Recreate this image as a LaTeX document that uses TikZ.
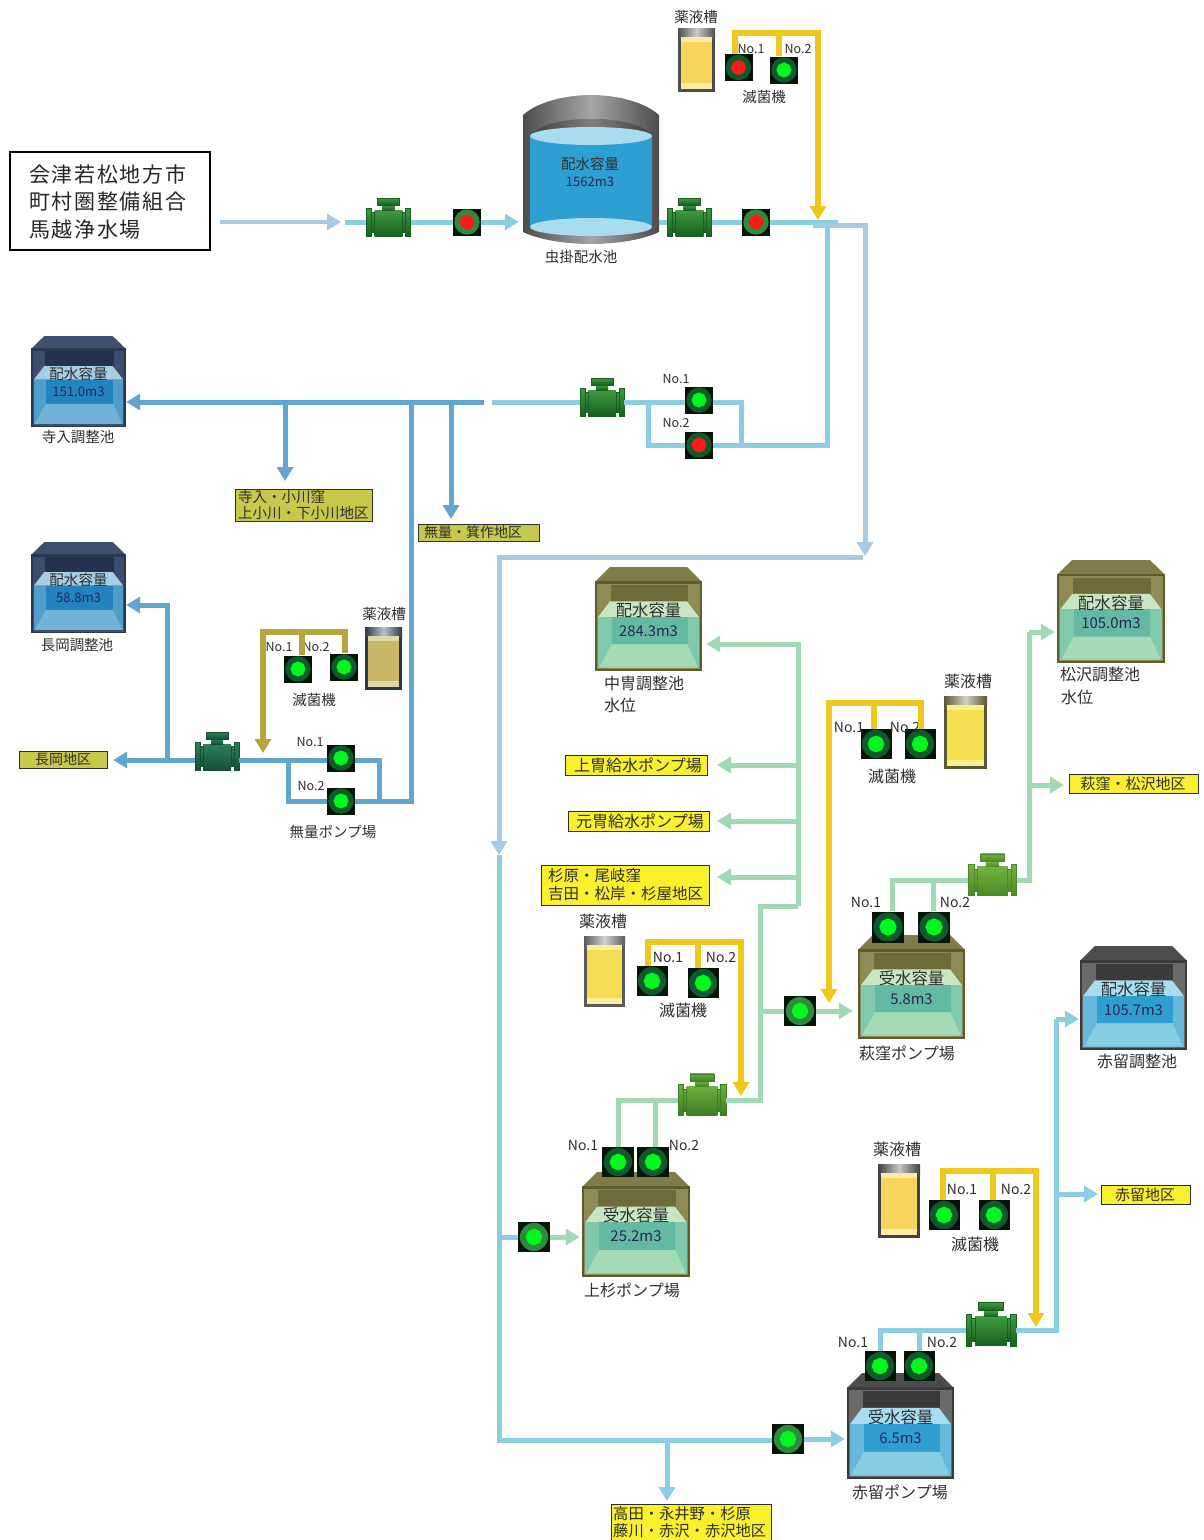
\documentclass[tikz,border=0pt]{standalone}
\usepackage{fontspec}
\setmainfont{Noto Sans CJK JP}
\newfontfamily\boxfont[LetterSpace=8]{Noto Sans CJK JP}
\usetikzlibrary{arrows.meta,shapes.geometric,calc}
% tank palettes
\definecolor{navyroof}{HTML}{3F4F70}\definecolor{navyframe}{HTML}{2A3850}\definecolor{navyside}{HTML}{3D4D70}\definecolor{navyback}{HTML}{25324F}
\definecolor{navysurf}{HTML}{A6CDE2}\definecolor{navywater}{HTML}{4F9DCB}\definecolor{navydeep}{HTML}{2383BC}\definecolor{navyfloor}{HTML}{70B2D8}
\definecolor{oliveroof}{HTML}{7F7C4A}\definecolor{oliveframe}{HTML}{5C5C2C}\definecolor{oliveside}{HTML}{8E8B55}\definecolor{oliveback}{HTML}{6F6B38}
\definecolor{olivesurf}{HTML}{C8E6C3}\definecolor{olivewater}{HTML}{80C9AD}\definecolor{olivedeep}{HTML}{64B9A2}\definecolor{olivefloor}{HTML}{A4DBB6}
\definecolor{grayroof}{HTML}{4C4C4C}\definecolor{grayframe}{HTML}{3A3A3A}\definecolor{grayside}{HTML}{6A6A6A}\definecolor{grayback}{HTML}{3A3A3A}
\definecolor{graysurf}{HTML}{A9DCEE}\definecolor{graywater}{HTML}{66B9DD}\definecolor{graydeep}{HTML}{2E9FD0}\definecolor{grayfloor}{HTML}{86CDE3}
% chemical tanks
\definecolor{capGrey}{HTML}{6E6E6E}\definecolor{capMid}{HTML}{808080}\definecolor{capDark}{HTML}{5E5E5E}
\definecolor{fillA}{HTML}{F5D55C}\definecolor{lightA}{HTML}{FBEBA6}
\definecolor{fillB}{HTML}{C8B868}\definecolor{lightB}{HTML}{DCD8A8}
\definecolor{fillC}{HTML}{F6DF50}\definecolor{lightC}{HTML}{FBEE8C}
\definecolor{fillD}{HTML}{F5DC55}\definecolor{lightD}{HTML}{FBEE9C}
% pipes
\definecolor{sky}{HTML}{8CCDE3}\definecolor{pale}{HTML}{A6CBE9}\definecolor{midblue}{HTML}{62A5CF}\definecolor{mint}{HTML}{A3D8B4}
\definecolor{chemyel}{HTML}{ECC91C}\definecolor{chemolive}{HTML}{B5A53C}
\definecolor{ringA}{HTML}{0F5A2A}\definecolor{ringB}{HTML}{2F8A3C}\definecolor{lampG}{HTML}{00F81E}\definecolor{lampR}{HTML}{FF1A1A}
\definecolor{signY}{HTML}{FAF02E}\definecolor{signO}{HTML}{C8C84A}\definecolor{ink}{HTML}{2E2E2E}
\definecolor{vbox}{HTML}{06140A}
\definecolor{m1t}{HTML}{3F9A42}\definecolor{m1b}{HTML}{17601F}
\definecolor{m2t}{HTML}{2F8058}\definecolor{m2b}{HTML}{164F36}
\definecolor{m3t}{HTML}{6CAE3E}\definecolor{m3b}{HTML}{3C7E22}
\definecolor{m4t}{HTML}{72B242}\definecolor{m4b}{HTML}{4A8A26}
\tikzset{
 lbl/.style={inner sep=0pt,text=ink,font=\fontsize{14.5}{17}\selectfont},
 nolbl/.style={inner sep=0pt,text=ink,font=\fontsize{12.5}{14}\selectfont},
 nobig/.style={inner sep=0pt,text=ink,font=\fontsize{14}{16}\selectfont},
 big/.style={inner sep=0pt,text=ink,font=\fontsize{16}{18}\selectfont},
 sign/.style={draw=ink,line width=1.2pt,anchor=north west,inner sep=0pt},
 pipe/.style={line width=5pt,line join=miter},
 chem/.style={line width=5.8pt,line join=miter},
 arr/.style={-{Triangle[width=16pt,length=14pt]}},
}
% name, x, y, w, h, lamp, ring
\newcommand{\vlv}[7]{%
 \node[fill=vbox,minimum width=#4pt,minimum height=#5pt,inner sep=0pt] (#1) at (#2,#3) {};
 \fill[#7] (#2,#3) circle ({0.47*#5 pt});
 \node[regular polygon,regular polygon sides=8,shape border rotate=22.5,fill=#6,inner sep=0pt,minimum size={0.56*#5 pt}] (#1lamp) at (#2,#3) {};
}
% name, cx, cy, width, top colour, bottom colour
\newcommand{\flowmeter}[6]{%
 \node[minimum width=#4pt,minimum height=28pt,inner sep=0pt] (#1) at (#2,#3) {};
 \begin{scope}[shift={(#2,#3)},scale={#4/44}]
  \shade[top color=#5,bottom color=#6] (-14,-12) rectangle (14,14);
  \shade[top color=#5,bottom color=#6] (-6,-17) rectangle (6,-12);
  \shade[top color=#5,bottom color=#6,draw=#6,line width=.6pt] (-11,-24) rectangle (11,-17);
  \foreach \s in {-1,1}{
   \shade[top color=#5,bottom color=#6,draw=#6,line width=.6pt] (\s*22,-14) rectangle (\s*17,14);
   \shade[top color=#5,bottom color=#6,draw=#6,line width=.6pt] (\s*17,-10) rectangle (\s*14,10);
  }
 \end{scope}
}
% name, x, y, w, h, palette, line1, line2
\newcommand{\boxtank}[8]{%
 \begin{scope}[shift={(#2,#3)},x=#4pt,y=-#5pt]
  \fill[#6roof] (.14,0) -- (.86,0) -- (1,.143) -- (0,.143) -- cycle;
  \fill[#6frame] (0,.135) rectangle (1,1);
  \fill[#6side] (.018,.16) rectangle (.982,.985);
  \fill[#6back] (.15,.17) rectangle (.87,.36);
  \fill[#6surf] (.14,.33) -- (.86,.33) -- (.97,.48) -- (.03,.48) -- cycle;
  \fill[#6water] (.03,.48) rectangle (.97,.97);
  \fill[#6deep] (.155,.48) rectangle (.865,.745);
  \fill[#6floor] (.155,.745) -- (.865,.745) -- (.96,.965) -- (.04,.965) -- cycle;
  \node[inner sep=0pt,minimum width=#4pt,minimum height={0.857*#5 pt}] (#1) at (.5,.5715) {};
  \pgfmathsetmacro\fsa{0.153*#4}\pgfmathsetmacro\fsb{0.138*#4}
  \node[inner sep=0pt,text=ink] (#1a) at (.5,.415) {\fontsize{\fsa}{\fsa}\selectfont #7};
  \node[inner sep=0pt,text=ink!80!blue] (#1b) at (.5,.615) {\fontsize{\fsb}{\fsb}\selectfont #8};
 \end{scope}
}
% name, x0, y0, x1, y1, cap, fill, light
\newcommand{\chemtank}[8]{%
 \node[fill=#6!70!black,inner sep=0pt,minimum width={(#4-#2)*1pt},minimum height={(#5-#3)*1pt}] (#1) at ({(#2+#4)/2},{(#3+#5)/2}) {};
 \shade[left color=#6!70!black,right color=#6!70!black,middle color=#6!35!white] (#2,#3) rectangle (#4,{#3+10});
 \fill[#8] ({#2+3},{#3+9}) rectangle ({#4-3},{#5-3});
 \fill[#7] ({#2+3},{#3+14}) rectangle ({#4-3},{#5-9});
}
\begin{document}
\begin{tikzpicture}[x=1pt,y=-1pt]
\useasboundingbox (0,0) rectangle (1203,1540);
% ---- source box
\node[draw=black,line width=1.8pt,anchor=north west,minimum width=200pt,minimum height=98pt,inner sep=0pt] (src) at (9,151) {};
\node[anchor=west,inner sep=0pt,align=left,text=black!85,font=\boxfont\fontsize{21}{27.6}\selectfont] (srct) at (29,202) {会津若松地方市\\町村圏整備組合\\馬越浄水場};
% ---- cylinder reservoir
\node[inner sep=0pt,minimum width=136pt,minimum height=148pt] (cyl) at (591,170) {};
\shade[left color=black!70,right color=black!70,middle color=black!35] (523,115) .. controls (540,100) and (570,95) .. (591,95) .. controls (612,95) and (642,100) .. (659,115) -- (659,232) .. controls (640,241) and (612,244) .. (591,244) .. controls (570,244) and (542,241) .. (523,232) -- cycle;
\shade[left color=black!75,right color=black!75,middle color=black!50] (531,136) .. controls (545,113) and (637,113) .. (652,136) -- cycle;
\fill[graydeep] (530,136) rectangle (652,227);
\fill[graysurf] (591,136) ellipse (61 and 9);
\fill[graysurf] (591,227) ellipse (61 and 9);
\node[inner sep=0pt,text=ink] (cyla) at (590,164) {\fontsize{14.5}{16}\selectfont 配水容量};
\node[inner sep=0pt,text=ink!80!blue] (cylb) at (590,182) {\fontsize{13}{15}\selectfont 1562m3};
\node[lbl] (cylc) at (581,257) {虫掛配水池};
% ---- box tanks
\boxtank{tTera}{31}{336}{95}{91}{navy}{配水容量}{151.0m3}
\boxtank{tNaga}{31}{542}{95}{91}{navy}{配水容量}{58.8m3}
\boxtank{tNaka}{595}{567}{107}{104}{olive}{配水容量}{284.3m3}
\boxtank{tMatsu}{1057}{560}{108}{103}{olive}{配水容量}{105.0m3}
\boxtank{tHagi}{858}{935}{107}{104}{olive}{受水容量}{5.8m3}
\boxtank{tAkaC}{1080}{946}{107}{104}{gray}{配水容量}{105.7m3}
\boxtank{tUe}{582}{1172}{108}{105}{olive}{受水容量}{25.2m3}
\boxtank{tAkaP}{847}{1373}{107}{106}{gray}{受水容量}{6.5m3}
% ---- chemical tanks
\chemtank{c1}{678}{28}{715}{92}{capGrey}{fillA}{lightA}
\chemtank{c2}{365}{627}{402}{690}{navyroof}{fillB}{lightB}
\chemtank{c3}{944}{696}{987}{769}{oliveroof}{fillC}{lightC}
\chemtank{c4}{584}{936}{625}{1007}{capMid}{fillD}{lightD}
\chemtank{c5}{878}{1164}{920}{1238}{capDark}{fillA}{lightA}
% ---- flow meters
\flowmeter{mA}{388.5}{222}{44}{m1t}{m1b}
\flowmeter{mB}{689.5}{222}{44}{m1t}{m1b}
\flowmeter{mC}{602}{402}{44}{m1t}{m1b}
\flowmeter{mD}{217}{756}{44}{m2t}{m2b}
\flowmeter{mE}{702}{1100}{48}{m3t}{m3b}
\flowmeter{mF}{992.5}{880}{48}{m4t}{m4b}
\flowmeter{mG}{991}{1330}{50}{m1t}{m1b}
% ---- valves
\vlv{vA}{467}{222}{28}{27}{lampR}{ringB}
\vlv{vB}{756}{222}{28}{27}{lampR}{ringB}
\vlv{vT1}{738.5}{67.5}{28}{27}{lampR}{ringA}
\vlv{vT2}{784}{70}{28}{27}{lampG}{ringA}
\vlv{vC1}{699}{400}{28}{27}{lampG}{ringA}
\vlv{vC2}{699}{445}{28}{27}{lampR}{ringA}
\vlv{vD1}{341}{758}{28}{27}{lampG}{ringA}
\vlv{vD2}{341}{801}{28}{27}{lampG}{ringA}
\vlv{vN1}{298}{669}{28}{27}{lampG}{ringA}
\vlv{vN2}{344}{667}{28}{27}{lampG}{ringA}
\vlv{vH1}{876}{744}{31}{30}{lampG}{ringA}
\vlv{vH2}{920}{744}{31}{30}{lampG}{ringA}
\vlv{vU1}{652}{981}{31}{30}{lampG}{ringA}
\vlv{vU2}{703}{983}{31}{30}{lampG}{ringA}
\vlv{vK1}{888}{927}{32}{31}{lampG}{ringA}
\vlv{vK2}{934}{927}{32}{31}{lampG}{ringA}
\vlv{vHin}{800}{1011}{32}{30}{lampG}{ringB}
\vlv{vE1}{618}{1162}{32}{30}{lampG}{ringA}
\vlv{vE2}{653}{1162}{32}{30}{lampG}{ringA}
\vlv{vUin}{534}{1237}{32}{30}{lampG}{ringB}
\vlv{vS1}{944}{1215}{31}{30}{lampG}{ringA}
\vlv{vS2}{994}{1215}{31}{30}{lampG}{ringA}
\vlv{vG1}{880}{1366}{31}{30}{lampG}{ringA}
\vlv{vG2}{919}{1366}{31}{30}{lampG}{ringA}
\vlv{vAin}{788}{1439}{32}{30}{lampG}{ringB}
% ---- signs
\node[sign,fill=signO,minimum width=137pt,minimum height=32pt] (sTera) at (235,489) {};
\node[inner sep=0pt,anchor=west,align=left,text=ink,font=\fontsize{14.5}{15.4}\selectfont] (sTeraT) at (238,505) {寺入・小川窪\\上小川・下小川地区};
\node[sign,fill=signO,minimum width=121pt,minimum height=17pt] (sMu) at (418,524) {};
\node[inner sep=0pt,text=ink] (sMuT) at (473,532.5) {\fontsize{14}{16}\selectfont 無量・箕作地区};
\node[sign,fill=signO,minimum width=88pt,minimum height=17pt] (sNaga) at (19,751) {};
\node[inner sep=0pt,text=ink] (sNagaT) at (63,759.5) {\fontsize{14}{16}\selectfont 長岡地区};
\node[sign,fill=signY,minimum width=142pt,minimum height=20pt] (sUeK) at (565,755) {};
\node[inner sep=0pt,text=ink] (sUeKT) at (638,765) {\fontsize{16}{18}\selectfont 上冑給水ポンプ場};
\node[sign,fill=signY,minimum width=141pt,minimum height=20pt] (sMoto) at (568,811) {};
\node[inner sep=0pt,text=ink] (sMotoT) at (640,821) {\fontsize{16}{18}\selectfont 元冑給水ポンプ場};
\node[sign,fill=signY,minimum width=168pt,minimum height=40pt] (sSugi) at (541,865) {};
\node[inner sep=0pt,anchor=west,align=left,text=ink,font=\fontsize{15.5}{18}\selectfont] (sSugiT) at (548,885) {杉原・尾岐窪\\吉田・松岸・杉屋地区};
\node[sign,fill=signY,minimum width=129pt,minimum height=19pt] (sHagi) at (1069,774) {};
\node[inner sep=0pt,text=ink] (sHagiT) at (1133,784) {\fontsize{15}{17}\selectfont 萩窪・松沢地区};
\node[sign,fill=signY,minimum width=89pt,minimum height=19pt] (sAka) at (1101,1185) {};
\node[inner sep=0pt,text=ink] (sAkaT) at (1145,1194.5) {\fontsize{15}{17}\selectfont 赤留地区};
\node[sign,fill=signY,minimum width=160pt,minimum height=38pt] (sTaka) at (610.5,1503.5) {};
\node[inner sep=0pt,anchor=west,align=left,text=ink,font=\fontsize{15.3}{17}\selectfont] (sTakaT) at (613,1522) {高田・永井野・杉原\\藤川・赤沢・赤沢地区};
% ---- text labels
\node[lbl] (a1) at (696,17) {薬液槽};
\node[nolbl] (a2) at (751,49) {No.1};
\node[nolbl] (a3) at (798,49) {No.2};
\node[lbl] (a4) at (764,97) {滅菌機};
\node[nolbl] (a5) at (676,379) {No.1};
\node[nolbl] (a6) at (676,423) {No.2};
\node[lbl] (a7) at (78,437) {寺入調整池};
\node[lbl] (a8) at (77,645) {長岡調整池};
\node[lbl] (a9) at (384,614) {薬液槽};
\node[nolbl] (a10) at (279,647) {No.1};
\node[nolbl] (a11) at (316,647) {No.2};
\node[lbl] (a12) at (314,700) {滅菌機};
\node[nolbl] (a13) at (310,742) {No.1};
\node[nolbl] (a14) at (311,786) {No.2};
\node[lbl] (a15) at (333,832) {無量ポンプ場};
\node[big,anchor=west] (a16) at (604,683) {中冑調整池};
\node[big,anchor=west] (a17) at (604,705) {水位};
\node[big,anchor=west] (a18) at (1060,674) {松沢調整池};
\node[big,anchor=west] (a19) at (1061,697) {水位};
\node[big] (a20) at (968,681) {薬液槽};
\node[nobig] (a21) at (849,727) {No.1};
\node[nobig] (a22) at (905,727) {No.2};
\node[big] (a23) at (892,776) {滅菌機};
\node[nobig] (a24) at (866,902) {No.1};
\node[nobig] (a25) at (955,902) {No.2};
\node[big] (a26) at (907,1053) {萩窪ポンプ場};
\node[big] (a27) at (1137,1061) {赤留調整池};
\node[big] (a28) at (603,921) {薬液槽};
\node[nobig] (a29) at (668,957) {No.1};
\node[nobig] (a30) at (721,957) {No.2};
\node[big] (a31) at (683,1010) {滅菌機};
\node[nobig] (a32) at (583,1145) {No.1};
\node[nobig] (a33) at (684,1145) {No.2};
\node[big] (a34) at (632,1290) {上杉ポンプ場};
\node[big] (a35) at (897,1149) {薬液槽};
\node[nobig] (a36) at (962,1189) {No.1};
\node[nobig] (a37) at (1016,1189) {No.2};
\node[big] (a38) at (975,1244) {滅菌機};
\node[nobig] (a39) at (853,1342) {No.1};
\node[nobig] (a40) at (942,1342) {No.2};
\node[big] (a41) at (900,1492) {赤留ポンプ場};
% ---- junction points
\coordinate (inA) at (220,222); \coordinate (inB) at (341,222); \coordinate (pA) at (345,222);
\coordinate (tE) at (838,222);
\coordinate (bA) at (813,225); \coordinate (bB) at (865,225); \coordinate (bC) at (865,556);
\coordinate (bD) at (863,557); \coordinate (bE) at (499,557); \coordinate (bF) at (499,855);
\coordinate (bG) at (499,1440); \coordinate (bH) at (667,1440); \coordinate (bI) at (667,1501);
\coordinate (bJ) at (499,1237);
\coordinate (cA) at (827,225); \coordinate (cB) at (827,445); \coordinate (cC) at (741,445); \coordinate (cD) at (741,402); \coordinate (cE) at (648,402); \coordinate (cF) at (648,445);
\coordinate (cG) at (492,402);
\coordinate (dA) at (484,402); \coordinate (dB) at (451,402); \coordinate (dC) at (411,402); \coordinate (dD) at (285,402);
\coordinate (dE) at (285,481); \coordinate (dF) at (451,519); \coordinate (dG) at (411,801);
\coordinate (dH) at (379,801); \coordinate (dI) at (379,760); \coordinate (dJ) at (288,760); \coordinate (dK) at (288,801);
\coordinate (dL) at (167,760); \coordinate (dM) at (167,605);
\coordinate (gA) at (798,644); \coordinate (gB) at (798,906); \coordinate (gC) at (760,906); \coordinate (gD) at (760,1100); \coordinate (gE) at (760,1011);
\coordinate (gF) at (798,765); \coordinate (gG) at (798,821); \coordinate (gH) at (798,877);
\coordinate (gFe) at (717,765); \coordinate (gGe) at (717,821); \coordinate (gHe) at (717,877);
\coordinate (gI) at (618,1100); \coordinate (gJ) at (655,1100);
\coordinate (hA) at (1029,880); \coordinate (hB) at (1029,632); \coordinate (hC) at (1029,785); \coordinate (hD) at (892,880); \coordinate (hE) at (933,880);
\coordinate (kA) at (1056,1330); \coordinate (kB) at (1056,1019); \coordinate (kC) at (1056,1194); \coordinate (kD) at (880,1330); \coordinate (kE) at (919,1330);
% chem line points
\coordinate (yA) at (735,33); \coordinate (yB) at (818,33); \coordinate (yC) at (818,220); \coordinate (yD) at (779,33);
\coordinate (yE) at (263,632); \coordinate (yF) at (345,632); \coordinate (yG) at (263,753); \coordinate (yH) at (302,632);
\coordinate (yI) at (829,703); \coordinate (yJ) at (921,703); \coordinate (yK) at (829,1003); \coordinate (yL) at (874,703);
\coordinate (yM) at (648,942); \coordinate (yN) at (741,942); \coordinate (yO) at (741,1096); \coordinate (yP) at (698,942);
\coordinate (yQ) at (943,1171); \coordinate (yR) at (1036,1171); \coordinate (yS) at (1036,1327); \coordinate (yT) at (993,1171);
% ---- sky pipes (top line)
\draw[pipe,pale,arr,line width=3.6pt] (inA) -- (inB);
\draw[pipe,sky] (pA) -- (mA.west);
\draw[pipe,sky] (mA.east) -- (vA.west);
\draw[pipe,sky,arr,shorten >=4pt] (vA.east) -- (vA.east -| cyl.west);
\draw[pipe,sky] (cyl.east |- mB) -- (mB.west);
\draw[pipe,sky] (mB.east) -- (vB.west);
\draw[pipe,sky] (vB.east |- tE) -- (tE);
% ---- branch to Tera line
\draw[pipe,sky] (cA) -- (cB) -- (vC2.east);
\draw[pipe,sky] (cC) -- (cD) -- (vC1.east |- cD);
\draw[pipe,sky] (vC2.west) -- (cF) -- (cE);
\draw[pipe,sky] (mC.east) -- (vC1.west |- mC);
\draw[pipe,sky] (mC.west) -- (cG);
% ---- mid-blue Tera / Muryo network
\draw[pipe,midblue,arr] (dA) -- (tTera.east |- dA);
\draw[pipe,midblue,arr] (dD) -- (dE);
\draw[pipe,midblue,arr] (dB) -- (dF);
\draw[pipe,midblue] (dC) -- (dG) -- (vD2.east);
\draw[pipe,midblue] (dH) -- (dI) -- (vD1.east |- dI);
\draw[pipe,midblue] (mD.east |- dJ) -- (vD1.west |- dJ);
\draw[pipe,midblue] (dJ) -- (dK) -- (vD2.west);
\draw[pipe,midblue,arr,shorten >=5pt] (mD.west |- dJ) -- (sNaga.east |- dJ);
\draw[pipe,midblue,arr] (dL) -- (dM) -- (tNaga.east |- dM);
% ---- sky main line
\draw[pipe,sky] (bF) -- (bG) -- (vAin.west |- bG);
\draw[pipe,sky] (bJ) -- (vUin.west);
\draw[pipe,sky,arr] (bH) -- (bI);
\draw[pipe,sky,arr,shorten >=2pt] (vAin.east) -- (tAkaP.west |- vAin);
% ---- pale main line
\draw[pipe,pale] (bA) -- (tE |- bA);
\draw[pipe,pale,arr] (bA) -- (bB) -- (bC);
\draw[pipe,pale,arr] (bD) -- (bE) -- (bF);
% ---- mint network
\draw[pipe,mint,arr,shorten >=4pt] (gB) -- (gA) -- (tNaka.east |- gA);
\draw[pipe,mint,arr] (gF) -- (gFe);
\draw[pipe,mint,arr] (gG) -- (gGe);
\draw[pipe,mint,arr] (gH) -- (gHe);
\draw[pipe,mint] (gB) -- (gC) -- (gD) -- (mE.east);
\draw[pipe,mint] (gE) -- (vHin.west);
\draw[pipe,mint,arr,shorten >=5pt] (vHin.east) -- (tHagi.west |- vHin);
\draw[pipe,mint] (mE.west) -- (gI) -- (vE1.north);
\draw[pipe,mint] (gJ) -- (vE2.north -| gJ);
\draw[pipe,mint,arr,shorten >=2pt] (vUin.east) -- (tUe.west |- vUin);
\draw[pipe,mint] (mF.east) -- (hA) -- (hB);
\draw[pipe,mint,arr,shorten >=2pt] (hB) -- (tMatsu.west |- hB);
\draw[pipe,mint,arr,shorten >=5pt] (hC) -- (sHagi.west |- hC);
\draw[pipe,mint] (mF.west) -- (hD) -- (vK1.north -| hD);
\draw[pipe,mint] (hE) -- (vK2.north -| hE);
% ---- Akadome sky network
\draw[pipe,sky] (mG.east) -- (kA) -- (kB);
\draw[pipe,sky,arr,shorten >=1pt] (kB) -- (tAkaC.west |- kB);
\draw[pipe,sky,arr,shorten >=3pt] (kC) -- (sAka.west |- kC);
\draw[pipe,sky] (mG.west) -- (kD) -- (vG1.north);
\draw[pipe,sky] (kE) -- (vG2.north);
% ---- chemical lines
\draw[chem,chemyel] (vT1.north -| yA) -- (yA) -- (yB);
\draw[chem,chemyel,arr] (yA -| yB) ++(0,-2.9) -- (yC);
\draw[chem,chemyel] (yD) -- (vT2.north -| yD);
\draw[chem,chemolive] (yE) -- (yF) -- (vN2.north -| yF);
\draw[chem,chemolive,arr] (yF) -- (yE) -- (yG);
\draw[chem,chemolive] (yH) -- (vN1.north -| yH);
\draw[chem,chemyel,arr] (yJ) -- (yI) -- (yK);
\draw[chem,chemyel] (yI) -- (yJ) -- (vH2.north -| yJ);
\draw[chem,chemyel] (yL) -- (vH1.north -| yL);
\draw[chem,chemyel,arr] (vU1.north -| yM) -- (yM) -- (yN) -- (yO);
\draw[chem,chemyel] (yP) -- (vU2.north -| yP);
\draw[chem,chemyel,arr] (vS1.north -| yQ) -- (yQ) -- (yR) -- (yS);
\draw[chem,chemyel] (yT) -- (vS2.north -| yT);
\end{tikzpicture}
\end{document}
